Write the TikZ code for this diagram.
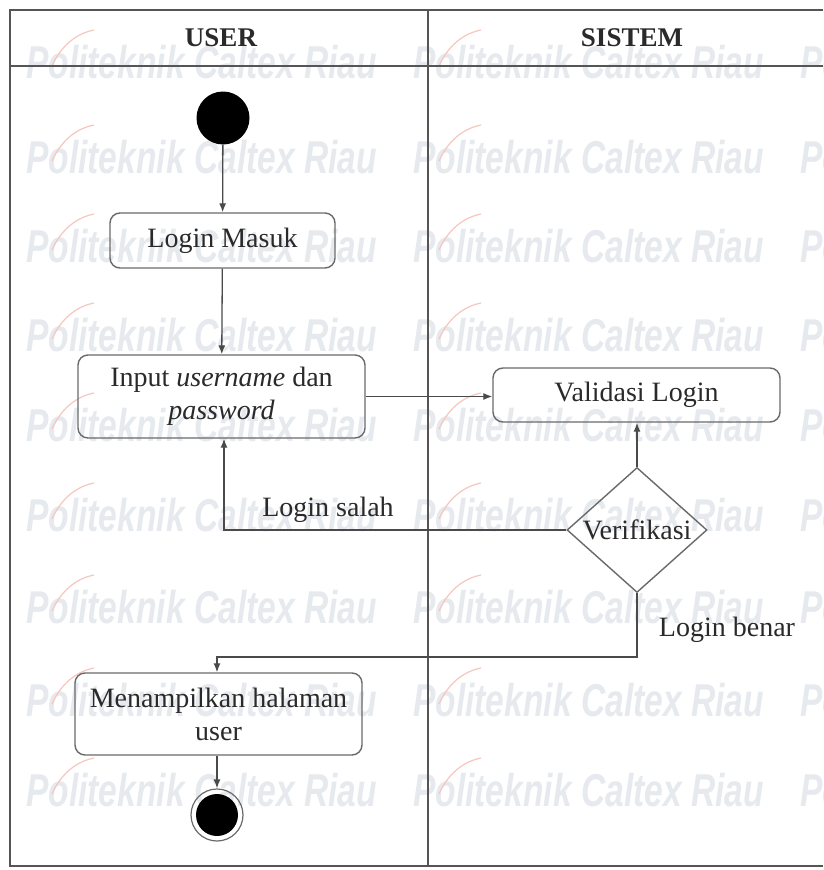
\documentclass[tikz,border=0pt]{standalone}
\usepackage{fontspec}
\setmainfont{Liberation Serif}
\newfontfamily\wmfont{Liberation Sans}
\usetikzlibrary{arrows.meta,shapes.geometric}

\definecolor{framegray}{HTML}{555555}
\definecolor{boxgray}{HTML}{6A6A6A}
\definecolor{linegray}{HTML}{4A4A4A}
\definecolor{wmblue}{HTML}{E6EAEE}
\definecolor{wmred}{HTML}{F7C6BF}
\definecolor{ink}{HTML}{2A2A2A}

\begin{document}
\begin{tikzpicture}[x=1pt,y=-1pt,
  frame/.style={draw=framegray, line width=2pt},
  act/.style={draw=boxgray, line width=1.4pt, rounded corners=10pt,
    minimum width=287pt, align=center, inner sep=0pt, text=ink,
    font=\fontsize{28}{33}\selectfont},
  decision/.style={diamond, draw=boxgray, line width=1.4pt,
    minimum width=140pt, minimum height=125pt, inner sep=0pt},
  flow/.style={draw=linegray, line width=1.3pt,
    -{Latex[length=9pt,width=7pt]}},
  lbl/.style={text=ink, inner sep=0pt, font=\fontsize{28}{33}\selectfont},
  head/.style={text=ink, inner sep=0pt, font=\bfseries\fontsize{27}{30}\selectfont},
  wm/.style={text=wmblue, inner sep=0pt, anchor=west,
    font=\wmfont\bfseries\itshape\fontsize{46}{46}\selectfont},
  wmarc/.style={draw=wmred, line width=1.2pt}]

\useasboundingbox (0,0) rectangle (823,870);
\fill[white] (0,0) rectangle (823,870);

% background watermark
\foreach \wy in {62,157,246,335,425,515,607,700,790}{
  \foreach \wx in {26,413,800}{
    \node[wm] at (\wx,\wy) {\scalebox{0.73}[1]{Politeknik Caltex Riau}};
    \draw[wmarc] (\wx+26,\wy+4) .. controls (\wx+34,\wy-14) and (\wx+48,\wy-28) .. (\wx+68,\wy-32);
  }
}

% swimlane frame
\draw[frame] (823,10) -- (10,10) -- (10,866) -- (823,866);
\draw[frame] (10,66) -- (823,66);
\draw[frame] (428,10) -- (428,866);
\node[head] (huser) at (221,38) {USER};
\node[head] (hsys) at (632,38) {SISTEM};

% activities
\node[circle, fill=black, minimum size=53pt, inner sep=0pt] (start) at (223,118) {};
\node[act, minimum width=225pt, minimum height=55pt] (login) at (222.5,240.5) {Login Masuk};
\node[act, minimum height=83pt] (input) at (221.5,396.5) {Input \textit{username} dan\\\textit{password}};
\node[act, minimum height=54pt] (valid) at (636.5,395) {Validasi Login};
\node[decision] (ver) at (637,530) {};
\node[lbl] (vertext) at (ver.center) {Verifikasi};
\node[act, minimum height=82pt] (menu) at (218.5,714) {Menampilkan halaman\\user};
\node[circle, draw=boxgray, line width=1.2pt, minimum size=52pt, inner sep=0pt] (end) at (217,815) {};
\fill[black] (end.center) circle[radius=21pt];

% guard labels
\node[lbl] (salah) at (328,510) {Login salah};
\node[lbl] (benar) at (727,630) {Login benar};

% connectors
\coordinate (salahbend) at (224,530);
\coordinate (benarbend) at (217,657);
\draw[flow] (start) -- (login);
\draw[flow] (login) -- (input);
\draw[flow] (input.east) -- (input.east -| valid.west);
\draw[flow] (ver.north) -- (ver.north |- valid.south);
\draw[flow] (ver.west) -- (salahbend) -- (salahbend |- input.south);
\draw[flow] (ver.south) |- (benarbend) -- (benarbend |- menu.north);
\draw[flow] (menu.south -| end.north) -- (end.north);
\end{tikzpicture}
\end{document}
